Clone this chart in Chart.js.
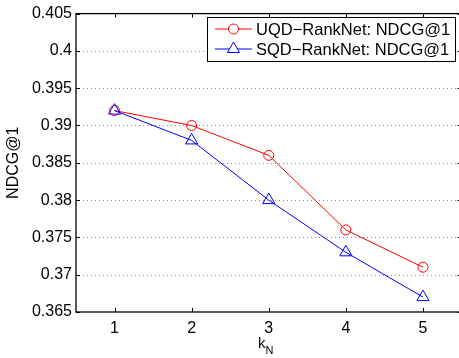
<!DOCTYPE html>
<html>
<head>
<meta charset="utf-8">
<script src="https://cdn.jsdelivr.net/npm/chart.js@4.4.0/dist/chart.umd.min.js"></script>
<style>
html,body{margin:0;padding:0;overflow:hidden;background:#fff;}
#wrap{width:470px;height:358px;}
</style>
</head>
<body>
<div id="wrap"><canvas id="c" width="470" height="358"></canvas></div>
<script>
// ---- data ----
const categories = [1, 2, 3, 4, 5];
const uqdValues = [0.392, 0.390, 0.386, 0.376, 0.371];
const sqdValues = [0.392, 0.388, 0.380, 0.373, 0.367];
const seriesNames = ['UQD\u2212RankNet: NDCG@1', 'SQD\u2212RankNet: NDCG@1'];
const xTicks = [1, 2, 3, 4, 5];
const xTickLabels = ['1', '2', '3', '4', '5'];
const yTicks = [0.365, 0.37, 0.375, 0.38, 0.385, 0.39, 0.395, 0.4, 0.405];
const yTickLabels = ['0.365', '0.37', '0.375', '0.38', '0.385', '0.39', '0.395', '0.4', '0.405'];
const yTitle = 'NDCG@1';
const xTitleMain = 'k';
const xTitleSub = 'N';

const FONT = '"Liberation Sans", Arial, Helvetica, sans-serif';

const gridPlugin = {
  id: 'dotgrid',
  beforeDatasetsDraw(chart) {
    const ctx = chart.ctx;
    const a = chart.chartArea;
    const ys = chart.scales.y;
    ctx.save();
    ctx.strokeStyle = '#8a8a8a';
    ctx.lineWidth = 1;
    ctx.setLineDash([1, 3]);
    ctx.beginPath();
    yTicks.forEach(v => {
      const py = Math.round(ys.getPixelForValue(v)) + 0.5;
      if (py > a.top + 2 && py < a.bottom - 2) {
        ctx.moveTo(a.left + 3, py); ctx.lineTo(a.right, py);
      }
    });
    ctx.stroke();
    ctx.restore();
  }
};

const framePlugin = {
  id: 'frame',
  afterDraw(chart) {
    const ctx = chart.ctx;
    const a = chart.chartArea;
    const xs = chart.scales.x, ys = chart.scales.y;
    ctx.save();
    ctx.strokeStyle = '#000';
    ctx.lineWidth = 1.3;
    ctx.strokeRect(a.left, a.top, a.right - a.left, a.bottom - a.top);
    // inward ticks
    ctx.lineWidth = 1;
    ctx.beginPath();
    xTicks.forEach(v => {
      const px = Math.round(xs.getPixelForValue(v)) + 0.5;
      ctx.moveTo(px, a.bottom); ctx.lineTo(px, a.bottom - 4);
      ctx.moveTo(px, a.top); ctx.lineTo(px, a.top + 4);
    });
    yTicks.forEach(v => {
      const py = Math.round(ys.getPixelForValue(v)) + 0.5;
      ctx.moveTo(a.left, py); ctx.lineTo(a.left + 4, py);
      ctx.moveTo(a.right, py); ctx.lineTo(a.right - 4, py);
    });
    ctx.stroke();
    // x title k_N
    ctx.fillStyle = '#000';
    ctx.textBaseline = 'alphabetic';
    ctx.textAlign = 'left';
    const cx = (a.left + a.right) / 2;
    ctx.font = '15px ' + FONT;
    const kw = ctx.measureText(xTitleMain).width;
    ctx.font = '11px ' + FONT;
    const nw = ctx.measureText(xTitleSub).width;
    const x0 = cx - 3 - (kw + nw) / 2;
    ctx.font = '15px ' + FONT;
    ctx.fillText(xTitleMain, x0, a.bottom + 36);
    ctx.font = '11px ' + FONT;
    ctx.fillText(xTitleSub, x0 + kw, a.bottom + 42);
    // legend
    const lx = 207.5, ly = 17.5, lw = 248, lh = 44;
    ctx.fillStyle = '#fff';
    ctx.fillRect(lx, ly, lw, lh);
    ctx.strokeStyle = '#000';
    ctx.lineWidth = 1;
    ctx.strokeRect(lx, ly, lw, lh);
    const rows = [29, 49];
    chart.data.datasets.forEach((ds, i) => {
      const y = rows[i];
      ctx.strokeStyle = ds.borderColor;
      ctx.lineWidth = 1;
      ctx.beginPath();
      ctx.moveTo(215, y); ctx.lineTo(252, y);
      ctx.stroke();
      ctx.fillStyle = '#fff';
      ctx.strokeStyle = ds.borderColor;
      Chart.helpers.drawPoint(ctx, {
        pointStyle: ds.pointStyle, radius: ds.pointRadius, borderWidth: 1, rotation: 0
      }, 233.5, y);
      ctx.fillStyle = '#000';
      ctx.font = '16.5px ' + FONT;
      ctx.textBaseline = 'middle';
      ctx.fillText(seriesNames[i], 256, y + 1);
    });
    ctx.restore();
  }
};

new Chart(document.getElementById('c'), {
  type: 'line',
  data: {
    datasets: [
      {
        label: seriesNames[0],
        data: categories.map((c, i) => ({ x: c, y: uqdValues[i] })),
        borderColor: '#ff0000',
        backgroundColor: 'rgba(0,0,0,0)',
        borderWidth: 1,
        pointStyle: 'circle',
        pointRadius: 5,
        pointBorderWidth: 1,
        pointBorderColor: '#ff0000',
        pointBackgroundColor: 'rgba(0,0,0,0)',
        tension: 0,
        order: 2
      },
      {
        label: seriesNames[1],
        data: categories.map((c, i) => ({ x: c, y: sqdValues[i] })),
        borderColor: '#0000ff',
        backgroundColor: 'rgba(0,0,0,0)',
        borderWidth: 1,
        pointStyle: 'triangle',
        pointRadius: 7,
        pointBorderWidth: 1,
        pointBorderColor: '#0000ff',
        pointBackgroundColor: 'rgba(0,0,0,0)',
        tension: 0,
        order: 1
      }
    ]
  },
  options: {
    responsive: false,
    animation: false,
    events: [],
    layout: { padding: { top: 11, right: 8.5, left: 0, bottom: 0 } },
    plugins: { legend: { display: false }, tooltip: { enabled: false } },
    scales: {
      x: {
        type: 'linear',
        min: 0.5, max: 5.5,
        afterBuildTicks(s) { s.ticks = xTicks.map(v => ({ value: v })); },
        afterFit(s) { s.height = 46; },
        grid: { display: false, drawTicks: false },
        border: { display: false },
        ticks: {
          color: '#000',
          font: { family: FONT, size: 16 },
          padding: 7,
          maxRotation: 0,
          callback: (v, i) => xTickLabels[i]
        }
      },
      y: {
        type: 'linear',
        min: 0.365, max: 0.405,
        afterBuildTicks(s) { s.ticks = yTicks.map(v => ({ value: v })); },
        afterFit(s) { s.width = 76; },
        grid: { display: false, drawTicks: false },
        border: { display: false },
        ticks: {
          color: '#000',
          font: { family: FONT, size: 16 },
          padding: 4,
          callback: (v, i) => yTickLabels[i]
        },
        title: {
          display: true,
          text: yTitle,
          color: '#000',
          font: { family: FONT, size: 16 },
          padding: { top: 4, bottom: 0 }
        }
      }
    }
  },
  plugins: [gridPlugin, framePlugin]
});
</script>
</body>
</html>
